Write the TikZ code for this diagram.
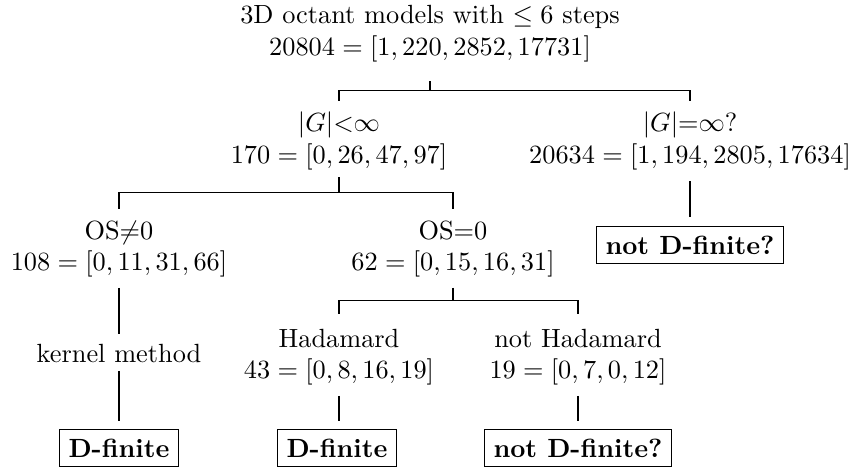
\documentclass[tikz,border=0pt]{standalone}
\usetikzlibrary{calc}
\begin{document}
\begin{tikzpicture}[x=0.38pt,y=-0.38pt,
  tnode/.style={align=center,inner sep=0pt},
  leafbox/.style={draw,inner sep=3.33pt,font=\bfseries},
  edge/.style={draw,line width=0.4pt}]
\useasboundingbox (0,0) rectangle (853,468);
% nodes
\node[tnode] (root) at (430,33.5) {3D octant models with $\le 6$ steps\\ $20804=[1,220,2852,17731]$};
\node[tnode] (g1) at (339,141) {$|G|{<}\infty$\\ $170=[0,26,47,97]$};
\node[tnode] (g2) at (690,141) {$|G|{=}\infty$?\\ $20634=[1,194,2805,17634]$};
\node[tnode] (os1) at (119,249) {OS$\neq$0\\ $108=[0,11,31,66]$};
\node[tnode] (os2) at (453,249) {OS$=$0\\ $62=[0,15,16,31]$};
\node[tnode] (had) at (339,357) {Hadamard\\ $43=[0,8,16,19]$};
\node[tnode] (nhad) at (578,357) {not Hadamard\\ $19=[0,7,0,12]$};
\node[tnode] (kern) at (119,354) {kernel method};
\node[leafbox] (df1) at (119,448) {D-finite};
\node[leafbox] (df2) at (337,448) {D-finite};
\node[leafbox] (ndf2) at (578,448) {not D-finite?};
\node[leafbox] (ndf1) at (690,245) {not D-finite?};
% edges
\draw[edge] ($(root.south)+(0,19)$) -- ++(0,9) -| ($(g1.north)+(0,-11)$);
\draw[edge] ($(root.south)+(0,19)$) -- ++(0,9) -| ($(g2.north)+(0,-11)$);
\draw[edge] ($(g1.south)+(0,7)$) -- ++(0,15) -| ($(os1.north)+(0,-11)$);
\draw[edge] ($(g1.south)+(0,7)$) -- ++(0,15) -| ($(os2.north)+(0,-11)$);
\draw[edge] ($(g2.south)+(0,11)$) -- ($(ndf1.north)+(0,-9)$);
\draw[edge] ($(os1.south)+(0,10)$) -- ($(kern.north)+(0,-10)$);
\draw[edge] ($(kern.south)+(0,7)$) -- ($(df1.north)+(0,-8)$);
\draw[edge] ($(os2.south)+(0,10)$) -- ++(0,13) -| ($(had.north)+(0,-14)$);
\draw[edge] ($(os2.south)+(0,10)$) -- ++(0,13) -| ($(nhad.north)+(0,-14)$);
\draw[edge] ($(had.south)+(0,10)$) -- ($(had.south |- df2.north)+(0,-8)$);
\draw[edge] ($(nhad.south)+(0,10)$) -- ($(ndf2.north)+(0,-8)$);
\end{tikzpicture}
\end{document}
